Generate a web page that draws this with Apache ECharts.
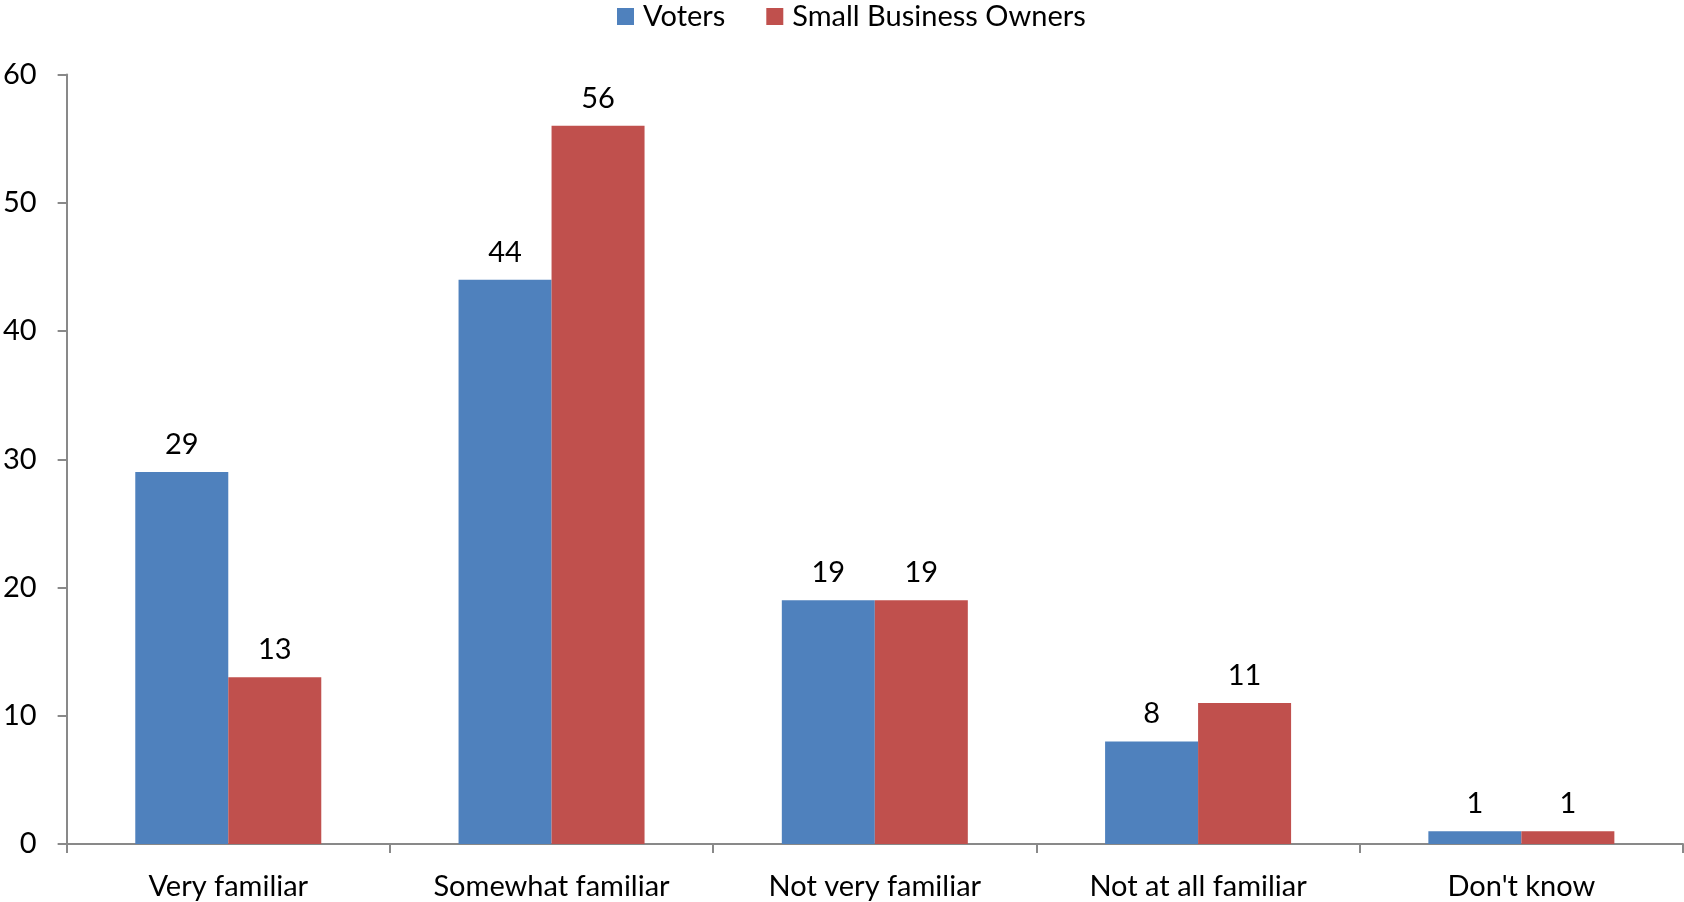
<!DOCTYPE html>
<html>
<head>
<meta charset="utf-8">
<script src="https://cdn.jsdelivr.net/npm/echarts@6/dist/echarts.min.js"></script>
<style>html,body{margin:0;padding:0;background:#fff}#c{width:1684px;height:902px}</style>
</head>
<body>
<div id="c"></div>
<script>
const categories = ["Very familiar", "Somewhat familiar", "Not very familiar", "Not at all familiar", "Don't know"];
const voters = [29, 44, 19, 8, 1];
const smallBusinessOwners = [13, 56, 19, 11, 1];
const seriesNames = ["Voters", "Small Business Owners"];
const yTicks = { min: 0, max: 60, interval: 10 };

const font = "Lato";
const fs = 29;
const axisColor = "#898989";
const chart = echarts.init(document.getElementById('c'));
const labelStyle = { show: true, position: 'top', distance: 13, color: '#000', fontSize: fs, fontFamily: font };
chart.setOption({
  animation: false,
  legend: {
    top: 2, left: 617, padding: 0, itemWidth: 17, itemHeight: 17, itemGap: 41,
    icon: 'rect',
    textStyle: { fontSize: fs, fontFamily: font, color: '#000', padding: [0, 0, 0, 4] },
    data: seriesNames
  },
  grid: { left: 63, right: 1, top: 74.5, bottom: 58, containLabel: false },
  xAxis: {
    type: 'category', data: categories,
    axisLine: { lineStyle: { color: axisColor, width: 2 } },
    axisTick: { show: true, length: 9, alignWithLabel: false, lineStyle: { color: axisColor, width: 2 } },
    axisLabel: { fontSize: fs, fontFamily: font, color: '#000', margin: 28, interval: 0 }
  },
  yAxis: {
    type: 'value', min: yTicks.min, max: yTicks.max, interval: yTicks.interval,
    axisLine: { show: true, lineStyle: { color: axisColor, width: 2 } },
    axisTick: { show: true, length: 9, inside: false, lineStyle: { color: axisColor, width: 2 } },
    splitLine: { show: false },
    axisLabel: { fontSize: fs, fontFamily: font, color: '#000', margin: 30 }
  },
  series: [
    { name: seriesNames[0], type: 'bar', data: voters, barWidth: 93, barGap: '0%', itemStyle: { color: '#4F81BD' }, label: labelStyle },
    { name: seriesNames[1], type: 'bar', data: smallBusinessOwners, barWidth: 93, barGap: '0%', itemStyle: { color: '#C0504D' }, label: labelStyle }
  ]
});
</script>
</body>
</html>
